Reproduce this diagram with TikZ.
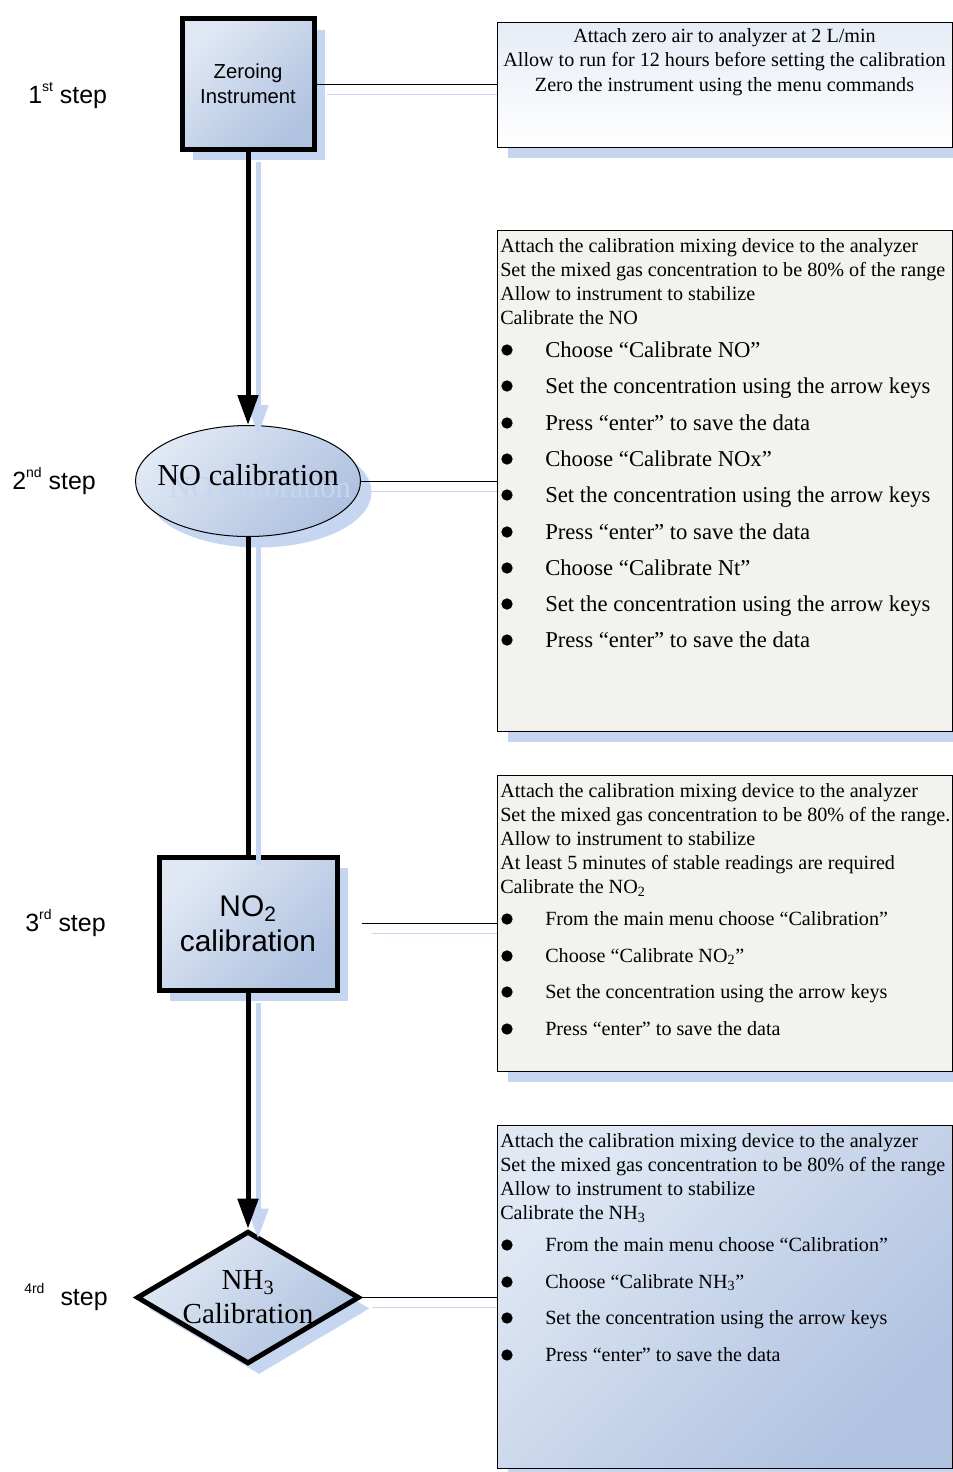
\documentclass[tikz,border=0pt]{standalone}
\usepackage{fontspec}
\setmainfont{Liberation Serif}
\setsansfont{Liberation Sans}
\usetikzlibrary{shapes.geometric,arrows.meta,shadows}
\definecolor{shapetop}{HTML}{E0E8F4}
\definecolor{shapebot}{HTML}{AFC2E0}
\definecolor{shadowblue}{HTML}{C6D6F0}
\definecolor{notefill}{HTML}{F2F3EE}
\definecolor{notetop}{HTML}{E6ECF6}
\newcommand\ordsup[1]{\raisebox{.45em}{\fontsize{10.5}{10.5}\selectfont #1}}
\begin{document}
\begin{tikzpicture}[x=0.75pt,y=-0.75pt,
  every node/.style={inner sep=0pt},
  bluegrad/.style={top color=shapetop,bottom color=shapebot,shading angle=45},
  flowshadow/.style={drop shadow={shadow xshift=8.25pt,shadow yshift=-8.25pt,fill=shadowblue,opacity=1}},
  thickbox/.style={draw,line width=3.75pt,bluegrad,flowshadow},
  note/.style={draw,line width=.75pt,rectangle,minimum width=341.25pt,flowshadow},
  flow/.style={line width=3.75pt},
  flowarrow/.style={flow,-{Triangle[length=22.5pt,width=15pt]}},
  link/.style={line width=.75pt},
  steplbl/.style={anchor=base west,font=\sffamily\fontsize{18.7}{20}\selectfont},
  bul/.style={circle,fill,minimum size=8.5pt}]
\useasboundingbox (0,0) rectangle (953,1472);
\node[steplbl] (s1) at (28,103) {1\ordsup{st} step};
\node[steplbl] (s2) at (12,489) {2\ordsup{nd} step};
\node[steplbl] (s3) at (25,931) {3\ordsup{rd} step};
\node[steplbl] (s4) at (24,1305) {\ordsup{4rd}\hspace{12pt}step};
\node[thickbox,minimum width=99pt,minimum height=98pt,align=center,font=\sffamily\fontsize{15.2}{18.75}\selectfont] (zero) at (248,84) {Zeroing\\Instrument};
\node[ellipse,draw,line width=.75pt,bluegrad,flowshadow,minimum width=168.75pt,minimum height=83.25pt] (noc) at (248,481) {};
\node[text=shadowblue,font=\fontsize{22.8}{24}\selectfont] (nocghost) at (260,487) {NO calibration};
\node[font=\fontsize{22.8}{24}\selectfont] (noctxt) at (248,475) {NO calibration};
\node[thickbox,minimum width=133.5pt,minimum height=99.75pt,align=center,font=\sffamily\fontsize{22.4}{26}\selectfont] (no2) at (248,923.5) {NO\textsubscript{2}\\calibration};
\node[diamond,draw,line width=3.75pt,bluegrad,flowshadow,aspect=1.7,minimum width=167pt,minimum height=99.5pt,
  label={[align=center,font=\fontsize{21.8}{25.5}\selectfont]center:NH\textsubscript{3}\\Calibration}] (nh3) at (248,1297.5) {};
\node[note,minimum height=93.75pt,top color=notetop,bottom color=white] (t1) at (724.5,84.5) {};
\node[anchor=north,align=center,font=\fontsize{15.1}{18.4}\selectfont] (t1txt) at (724.5,28) {Attach zero air to analyzer at 2 L/min\\Allow to run for 12 hours before setting the calibration\\Zero the instrument using the menu commands};
\node[note,minimum height=375.75pt,fill=notefill] (t2) at (724.5,480.5) {};
\node[anchor=north west,align=left,font=\fontsize{15.1}{18}\selectfont] (t2head) at (500,238) {Attach the calibration mixing device to the analyzer\\Set the mixed gas concentration to be 80\% of the range\\Allow to instrument to stabilize\\Calibrate the NO};
\foreach \y/\t [count=\i] in {350/Choose “Calibrate NO”,386/Set the concentration using the arrow keys,423/Press “enter” to save the data,459/Choose “Calibrate NOx”,495/Set the concentration using the arrow keys,532/Press “enter” to save the data,568/Choose “Calibrate Nt”,604/Set the concentration using the arrow keys,640/Press “enter” to save the data}{
  \node[bul] (t2b\i) at (507,\y) {};
  \node[anchor=base west,font=\fontsize{17}{20}\selectfont] (t2i\i) at (545,\y+7) {\t};
}
\node[note,minimum height=222pt,fill=notefill] (t3) at (724.5,923) {};
\node[anchor=north west,align=left,font=\fontsize{15.1}{18}\selectfont] (t3head) at (500,783) {Attach the calibration mixing device to the analyzer\\Set the mixed gas concentration to be 80\% of the range.\\Allow to instrument to stabilize\\At least 5 minutes of stable readings are required\\Calibrate the NO\textsubscript{2}};
\foreach \y/\t [count=\i] in {919/From the main menu choose “Calibration”,956/Choose “Calibrate NO\textsubscript{2}”,992/Set the concentration using the arrow keys,1029/Press “enter” to save the data}{
  \node[bul] (t3b\i) at (507,\y) {};
  \node[anchor=base west,font=\fontsize{15.1}{18}\selectfont] (t3i\i) at (545,\y+6) {\t};
}
\node[note,minimum height=257.25pt,bluegrad] (t4) at (724.5,1296.5) {};
\node[anchor=north west,align=left,font=\fontsize{15.1}{18}\selectfont] (t4head) at (500,1133) {Attach the calibration mixing device to the analyzer\\Set the mixed gas concentration to be 80\% of the range\\Allow to instrument to stabilize\\Calibrate the NH\textsubscript{3}};
\foreach \y/\t [count=\i] in {1245/From the main menu choose “Calibration”,1282/Choose “Calibrate NH\textsubscript{3}”,1318/Set the concentration using the arrow keys,1355/Press “enter” to save the data}{
  \node[bul] (t4b\i) at (507,\y) {};
  \node[anchor=base west,font=\fontsize{15.1}{18}\selectfont] (t4i\i) at (545,\y+6) {\t};
}
\begin{scope}[transform canvas={shift={(7.5pt,-7.5pt)}},shadowblue]
\draw[flowarrow] (zero.south) -- (noc.north);
\draw[flow] (noc.south) -- (no2.north);
\draw[flowarrow] (no2.south) -- (nh3.north);
\draw[link,shorten >=7.5pt] (zero.east) -- (zero.east -| t1.west);
\draw[link,shorten >=7.5pt] (noc.east) -- (noc.east -| t2.west);
\draw[link,shorten <=16.5pt,shorten >=7.5pt] (no2.east) -- (no2.east -| t3.west);
\draw[link,shorten >=7.5pt] (nh3.east) -- (nh3.east -| t4.west);
\end{scope}
\draw[flowarrow] (zero.south) -- (noc.north);
\draw[flow] (noc.south) -- (no2.north);
\draw[flowarrow] (no2.south) -- (nh3.north);
\draw[link] (zero.east) -- (zero.east -| t1.west);
\draw[link] (noc.east) -- (noc.east -| t2.west);
\draw[link,shorten <=16.5pt] (no2.east) -- (no2.east -| t3.west);
\draw[link] (nh3.east) -- (nh3.east -| t4.west);
\end{tikzpicture}
\end{document}
